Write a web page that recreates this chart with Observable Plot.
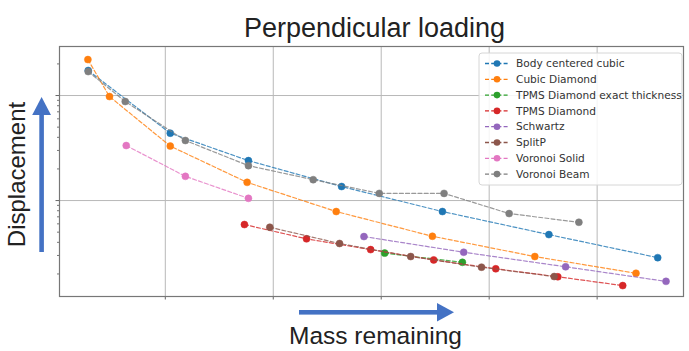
<!DOCTYPE html>
<html>
<head>
<meta charset="utf-8">
<script src="https://cdn.jsdelivr.net/npm/d3@7"></script>
<script src="https://cdn.jsdelivr.net/npm/@observablehq/plot@0.6"></script>
<style>
  html, body { margin: 0; padding: 0; background: #fff; }
  #chart svg { display: block; }
</style>
</head>
<body>
<div id="chart"></div>
<script>
// ---- data (arbitrary units; y on a log scale) ----
const seriesNames = ["Body centered cubic", "Cubic Diamond", "TPMS Diamond exact thickness", "TPMS Diamond", "Schwartz", "SplitP", "Voronoi Solid", "Voronoi Beam"];
const seriesColors = ["#1f77b4", "#ff7f0e", "#2ca02c", "#d62728", "#9467bd", "#8c564b", "#e377c2", "#7f7f7f"];

const bccMass = [0.286, 1.046, 1.770, 2.633, 3.567, 4.553, 5.561];
const bccDisp = [17.3, 4.38, 2.40, 1.36, 0.786, 0.474, 0.286];

const cubicMass = [0.283, 0.483, 1.046, 1.758, 2.583, 3.474, 4.423, 5.360];
const cubicDisp = [22.0, 9.78, 3.30, 1.49, 0.786, 0.457, 0.293, 0.203];

const tpmsExactMass = [3.032, 3.752];
const tpmsExactDisp = [0.316, 0.258];

const tpmsMass = [1.733, 2.308, 2.902, 3.486, 4.061, 4.636, 5.237];
const tpmsDisp = [0.591, 0.432, 0.341, 0.272, 0.224, 0.188, 0.155];

const schwartzMass = [2.840, 3.764, 4.708, 5.638];
const schwartzDisp = [0.454, 0.322, 0.234, 0.170];

const splitpMass = [1.968, 2.614, 3.273, 3.929, 4.602];
const splitpDisp = [0.557, 0.390, 0.293, 0.232, 0.189];

const voronoiSolidMass = [0.638, 1.186, 1.770];
const voronoiSolidDisp = [3.34, 1.70, 1.05];

const voronoiBeamMass = [0.286, 0.629, 1.186, 1.770, 2.370, 2.982, 3.582, 4.185, 4.831];
const voronoiBeamDisp = [16.9, 8.77, 3.73, 2.15, 1.58, 1.17, 1.17, 0.752, 0.621];

const xGrid = [1, 2, 3, 4, 5];
const yGrid = [1, 10];
const yMinor = [0.2, 0.3, 0.4, 0.5, 0.6, 0.7, 0.8, 0.9, 2, 3, 4, 5, 6, 7, 8, 9, 20];

const titleText = "Perpendicular loading";
const xLabelText = "Mass remaining";
const yLabelText = "Displacement";

// ---- build table ----
const massArrays = [bccMass, cubicMass, tpmsExactMass, tpmsMass, schwartzMass, splitpMass, voronoiSolidMass, voronoiBeamMass];
const dispArrays = [bccDisp, cubicDisp, tpmsExactDisp, tpmsDisp, schwartzDisp, splitpDisp, voronoiSolidDisp, voronoiBeamDisp];
const rows = [];
seriesNames.forEach((s, i) => massArrays[i].forEach((m, j) => rows.push({series: s, mass: m, disp: dispArrays[i][j]})));

const W = 689, H = 351;
const mL = 59, mR = 6, mT = 46, mB = 55;
const blank = () => "";

const seriesMarks = [];
seriesNames.forEach((s, i) => {
  const d = rows.filter(r => r.series === s);
  seriesMarks.push(Plot.line(d, {x: "mass", y: "disp", stroke: seriesColors[i], strokeWidth: 1.2, strokeDasharray: "4,2.2", strokeOpacity: 0.8}));
  seriesMarks.push(Plot.dot(d, {x: "mass", y: "disp", fill: seriesColors[i], r: 3.5, stroke: seriesColors[i], strokeWidth: 0.5}));
});

const fontMain = "'Liberation Sans', Arial, sans-serif";

const chart = Plot.plot({
  width: W,
  height: H,
  marginLeft: mL,
  marginRight: mR,
  marginTop: mT,
  marginBottom: mB,
  style: {fontFamily: fontMain, background: "#fff"},
  x: {domain: [0.02, 5.8]},
  y: {type: "log", domain: [0.122, 29.3]},
  marks: [
    Plot.gridX(xGrid, {stroke: "#b8b8b8", strokeOpacity: 1, strokeWidth: 1}),
    Plot.gridY(yGrid, {stroke: "#b8b8b8", strokeOpacity: 1, strokeWidth: 1}),
    Plot.axisX(xGrid, {tickSize: 3.5, tickFormat: blank, label: null, stroke: "#666"}),
    Plot.axisY(yGrid, {tickSize: 3.5, tickFormat: blank, label: null, stroke: "#666"}),
    Plot.axisY(yMinor, {tickSize: 2, tickFormat: blank, label: null, stroke: "#777"}),
    ...seriesMarks,
    Plot.frame({stroke: "#777", strokeWidth: 1.2}),
    Plot.text([titleText], {frameAnchor: "top", lineAnchor: "bottom", textAnchor: "middle", dy: -10, dx: 3, fontSize: 27, fill: "#222"}),
    Plot.text([xLabelText], {frameAnchor: "bottom", lineAnchor: "bottom", textAnchor: "middle", dy: 47, dx: 4, fontSize: 24.5, fill: "#222"}),
    Plot.text([yLabelText], {frameAnchor: "left", lineAnchor: "middle", textAnchor: "middle", rotate: -90, dx: -42, dy: 3, fontSize: 24, fill: "#222"})
  ]
});

document.getElementById("chart").appendChild(chart);

// ---- decorations: arrows and legend ----
const svg = d3.select(chart);
const arrowColor = "#4472c4";
// y arrow (pointing up)
const ya = svg.append("g");
ya.append("rect").attr("x", 39.3).attr("y", 112).attr("width", 4.6).attr("height", 140).attr("fill", arrowColor);
ya.append("path").attr("d", "M41.6,97 L51,115 L32.2,115 Z").attr("fill", arrowColor);
// x arrow (pointing right)
const xa = svg.append("g");
xa.append("rect").attr("x", 299).attr("y", 310).attr("width", 140).attr("height", 4.6).attr("fill", arrowColor);
xa.append("path").attr("d", "M454,312.3 L437,303 L437,321.6 Z").attr("fill", arrowColor);

// legend
const lg = svg.append("g").attr("font-family", "'DejaVu Sans', sans-serif").attr("text-anchor", "start");
const lgX = 479, lgY = 53, lgW = 203, lgH = 132;
lg.append("rect").attr("x", lgX).attr("y", lgY).attr("width", lgW).attr("height", lgH)
  .attr("rx", 3).attr("fill", "#fff").attr("fill-opacity", 0.85).attr("stroke", "#d6d6d6");
seriesNames.forEach((s, i) => {
  const y = 63.5 + i * 15.8;
  lg.append("line").attr("x1", 485).attr("x2", 509).attr("y1", y).attr("y2", y)
    .attr("stroke", seriesColors[i]).attr("stroke-width", 1.3).attr("stroke-dasharray", "4,2.2");
  lg.append("circle").attr("cx", 497).attr("cy", y).attr("r", 3.3).attr("fill", seriesColors[i]);
  lg.append("text").attr("x", 516).attr("y", y).attr("dy", "0.35em").attr("font-size", 10.6).attr("fill", "#333").attr("text-anchor", "start").text(s);
});
</script>
</body>
</html>
